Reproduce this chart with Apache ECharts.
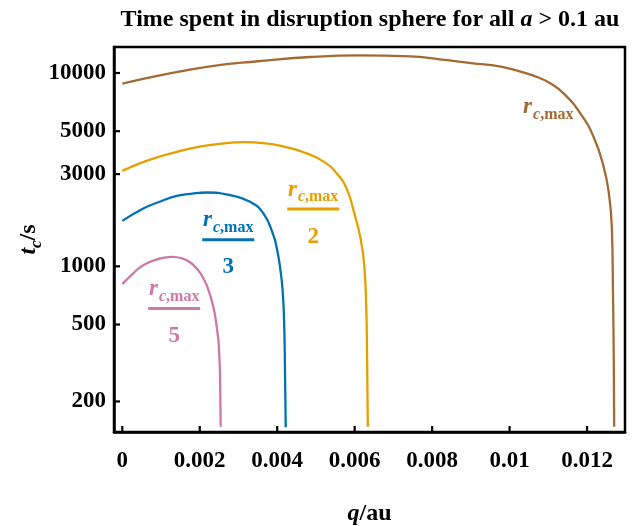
<!DOCTYPE html>
<html><head><meta charset="utf-8">
<script src="https://cdn.jsdelivr.net/npm/echarts@6/dist/echarts.min.js"></script>
<style>html,body{margin:0;padding:0;background:#fff}#c{width:644px;height:526px}</style>
</head><body><div id="c"></div>
<script>
const xTicks = [0, 0.002, 0.004, 0.006, 0.008, 0.01, 0.012];
const yTicks = [200, 500, 1000, 3000, 5000, 10000];

const qBrown = [0, 0.001, 0.00227, 0.0035, 0.00485, 0.00614, 0.00743, 0.0082, 0.0090, 0.00984, 0.01071, 0.01105, 0.0114, 0.01183, 0.01217, 0.01243, 0.01257, 0.01264, 0.01267, 0.01269, 0.0127];
const tBrown = [8810, 9750, 10830, 11500, 12100, 12340, 12190, 11770, 11260, 10740, 9535, 8846, 7826, 6167, 4669, 3267, 2330, 1600, 727, 327, 148];

const qOrange = [0, 0.0005, 0.00097, 0.0015, 0.002, 0.0025, 0.00312, 0.0037, 0.0042, 0.0047, 0.0052, 0.00555, 0.0058, 0.006, 0.00615, 0.00625, 0.0063, 0.00632, 0.00634];
const tOrange = [3116, 3440, 3700, 3950, 4160, 4300, 4390, 4330, 4150, 3880, 3480, 3000, 2500, 1850, 1400, 1000, 600, 350, 148];

const qBlue = [0, 0.000543, 0.001, 0.001406, 0.00181, 0.002181, 0.002783, 0.0033, 0.003643, 0.0039, 0.00399, 0.00407, 0.00414, 0.00418, 0.0042, 0.00422];
const tBlue = [1718, 1992, 2170, 2313, 2380, 2409, 2333, 2155, 1877, 1450, 1240, 1000, 750, 500, 300, 147];

const qPink = [0, 0.00027, 0.00054, 0.0009, 0.00128, 0.00155, 0.00175, 0.00195, 0.00209, 0.00222, 0.00235, 0.00243, 0.00248, 0.0025, 0.00252, 0.00253, 0.00254];
const tPink = [809, 915, 1014, 1085, 1120, 1100, 1050, 960, 870, 760, 618, 500, 416, 360, 290, 220, 148];

const divisors = ['', '2', '3', '5'];
const labelAnchors = [[0.0110, 6494], [0.004928, 1755], [0.002736, 1220], [0.00134, 537]];

const colors = ['#A36A33', '#E69F00', '#0072B2', '#CC79A7'];
const FONT = 'Liberation Serif';

function zip(q, t) { return q.map((v, i) => [v, t[i]]); }

function richFor(color) {
  return {
    r: { fontFamily: FONT, fontStyle: 'italic', fontWeight: 'bold', fontSize: 23, color, verticalAlign: 'bottom', padding: [0, 1, 4, 0] },
    s: { fontFamily: FONT, fontStyle: 'italic', fontWeight: 'bold', fontSize: 16, color, verticalAlign: 'bottom' },
    m: { fontFamily: FONT, fontWeight: 'bold', fontSize: 16, color, verticalAlign: 'bottom' },
    bar: { width: 52, height: 3, backgroundColor: color, fontSize: 1, lineHeight: 8 },
    d: { fontFamily: FONT, fontWeight: 'bold', fontSize: 23, color, lineHeight: 47 }
  };
}

const seriesData = [zip(qBrown, tBrown), zip(qOrange, tOrange), zip(qBlue, tBlue), zip(qPink, tPink)];

const series = seriesData.map((d, i) => ({
  type: 'line',
  data: d,
  showSymbol: false,
  smooth: 0.5,
  lineStyle: { color: colors[i], width: 2.3 },
  itemStyle: { color: colors[i] },
  silent: true,
  z: 3,
  markPoint: {
    symbol: 'circle', symbolSize: 0, silent: true,
    data: [{
      coord: labelAnchors[i],
      label: {
        show: true, position: 'inside', align: 'center', verticalAlign: 'middle',
        formatter: divisors[i] ? '{r|r}{s|c}{m|,max}\n{bar| }\n{d|' + divisors[i] + '}' : '{r|r}{s|c}{m|,max}',
        rich: richFor(colors[i])
      }
    }]
  }
}));

const X_MIN = -0.000214, X_MAX = 0.01298, Y_MIN = 139, Y_MAX = 13630;

const chart = echarts.init(document.getElementById('c'), null, { renderer: 'canvas' });
chart.setOption({
  animation: false,
  backgroundColor: '#fff',
  title: {
    text: '{b|Time spent in disruption sphere for all }{i|a}{b| > 0.1 au}',
    left: 365, top: 3, textAlign: 'center',
    textStyle: {
      rich: {
        b: { fontFamily: FONT, fontWeight: 'bold', fontSize: 24, color: '#000' },
        i: { fontFamily: FONT, fontWeight: 'bold', fontStyle: 'italic', fontSize: 24, color: '#000' }
      }
    }
  },
  grid: { left: 114, right: 19, top: 47, bottom: 94, outerBoundsMode: 'none', containLabel: false,
    show: true, borderColor: '#000', borderWidth: 2.5, backgroundColor: 'transparent' },
  xAxis: {
    type: 'value', min: X_MIN, max: X_MAX,
    name: '{i|q}{n|/au}', nameLocation: 'middle', nameGap: 70,
    nameTextStyle: { rich: {
      i: { fontFamily: FONT, fontStyle: 'italic', fontWeight: 'bold', fontSize: 24, color: '#000' },
      n: { fontFamily: FONT, fontWeight: 'bold', fontSize: 24, color: '#000' } } },
    axisLine: { show: true, onZero: false, lineStyle: { color: '#000', width: 2.5 } },
    splitLine: { show: false },
    axisTick: { show: false },
    axisLabel: { customValues: xTicks, fontFamily: FONT, fontWeight: 'bold', fontSize: 23, color: '#000', margin: 18,
      formatter: v => String(Number(v.toFixed(4))) }
  },
  yAxis: {
    type: 'log', logBase: 10, min: Y_MIN, max: Y_MAX,
    name: '{i|t}{s|c}{n|/s}', nameLocation: 'middle', nameGap: 69, nameRotate: 90, nameMoveOverlap: false,
    nameTextStyle: { rich: {
      i: { fontFamily: FONT, fontStyle: 'italic', fontWeight: 'bold', fontSize: 24, color: '#000', verticalAlign: 'bottom', padding: [0, 0, 4, 0] },
      s: { fontFamily: FONT, fontStyle: 'italic', fontWeight: 'bold', fontSize: 17, color: '#000', verticalAlign: 'bottom' },
      n: { fontFamily: FONT, fontWeight: 'bold', fontSize: 24, color: '#000', verticalAlign: 'bottom', padding: [0, 0, 4, 0] } } },
    axisLine: { show: true, onZero: false, lineStyle: { color: '#000', width: 2.5 } },
    splitLine: { show: false },
    minorTick: { show: false },
    axisTick: { show: false },
    axisLabel: { customValues: yTicks, fontFamily: FONT, fontWeight: 'bold', fontSize: 23, color: '#000', margin: 8,
      formatter: v => String(Math.round(v)) }
  },
  series
});

// inward tick marks placed through the chart's own scales
const TICK = 6;
const xLeft = chart.convertToPixel({ xAxisIndex: 0 }, X_MIN);
const yBottom = chart.convertToPixel({ yAxisIndex: 0 }, Y_MIN);
const tickGraphics = [];
xTicks.forEach(v => {
  const px = chart.convertToPixel({ xAxisIndex: 0 }, v);
  tickGraphics.push({ type: 'line', shape: { x1: px, y1: yBottom, x2: px, y2: yBottom - TICK }, style: { stroke: '#000', lineWidth: 2.2 }, z: 10, silent: true });
});
yTicks.forEach(v => {
  const py = chart.convertToPixel({ yAxisIndex: 0 }, v);
  tickGraphics.push({ type: 'line', shape: { x1: xLeft, y1: py, x2: xLeft + TICK, y2: py }, style: { stroke: '#000', lineWidth: 2.2 }, z: 10, silent: true });
});
chart.setOption({ graphic: tickGraphics });
</script>
</body></html>
